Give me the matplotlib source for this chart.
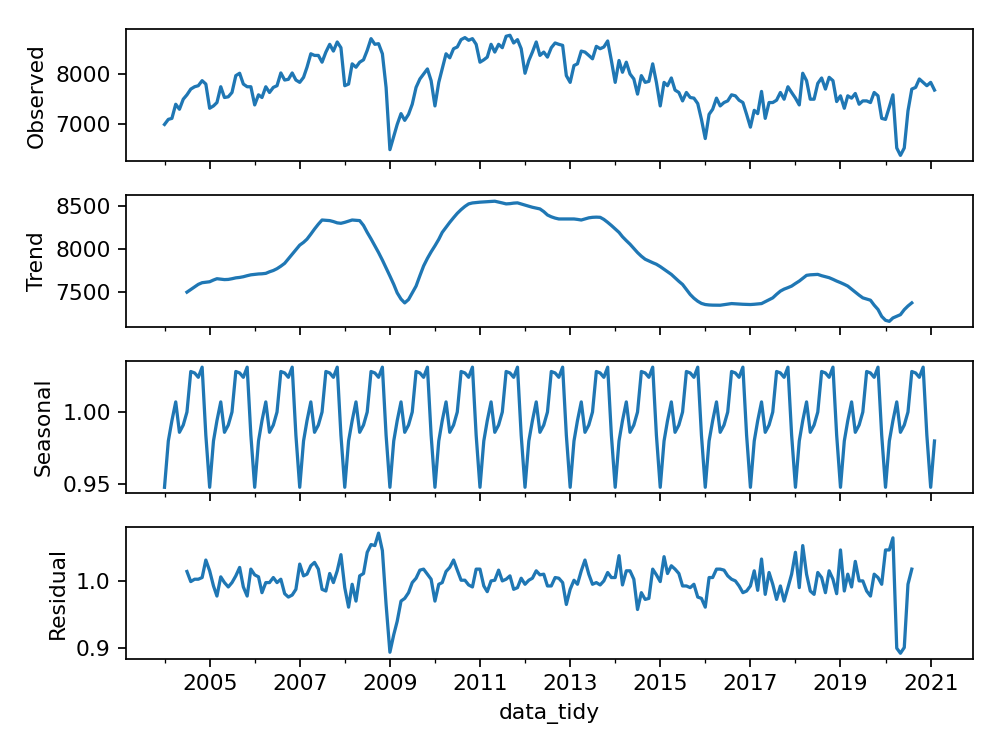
import numpy as np
import pandas as pd
import matplotlib
matplotlib.use('Agg')
import matplotlib.pyplot as plt
import matplotlib.dates as mdates
from datetime import datetime

# monthly series, 2004-01 .. 2021-02
start_month = '2004-01-01'

observed = [
    6986, 7088, 7108, 7392, 7291, 7493, 7581, 7696, 7743, 7764, 7865, 7797,
    7311, 7358, 7426, 7743, 7527, 7541, 7628, 7966, 8014, 7797, 7743, 7743,
    7378, 7581, 7527, 7743, 7628, 7730, 7764, 8020, 7878, 7892, 8020, 7878,
    7831, 7932, 8135, 8405, 8372, 8372, 8236, 8439, 8595, 8459, 8642, 8527,
    7764, 7797, 8203, 8135, 8236, 8284, 8473, 8709, 8595, 8608, 8405, 7730,
    6480, 6750, 6986, 7203, 7068, 7189, 7392, 7730, 7899, 8000, 8101, 7865,
    7358, 7831, 8101, 8405, 8324, 8507, 8541, 8689, 8730, 8676, 8709, 8595,
    8236, 8284, 8338, 8595, 8439, 8595, 8527, 8757, 8777, 8622, 8689, 8507,
    8014, 8270, 8439, 8642, 8372, 8439, 8338, 8527, 8622, 8595, 8574, 7966,
    7831, 8169, 8203, 8459, 8439, 8372, 8304, 8554, 8507, 8541, 8662, 8270,
    7831, 8270, 8034, 8236, 8000, 7899, 7595, 7966, 7831, 7851, 8203, 7831,
    7358, 7831, 7764, 7919, 7676, 7628, 7459, 7628, 7527, 7514, 7405, 7088,
    6703, 7189, 7291, 7514, 7358, 7426, 7459, 7581, 7561, 7473, 7426, 7189,
    6932, 7270, 7203, 7649, 7108, 7426, 7426, 7473, 7628, 7493, 7743, 7628,
    7514, 7378, 8014, 7865, 7493, 7493, 7811, 7919, 7696, 7932, 7865, 7446,
    7561, 7311, 7561, 7514, 7608, 7392, 7459, 7459, 7426, 7628, 7561, 7108,
    7088, 7338, 7581, 6514, 6365, 6514, 7257, 7696, 7730, 7899, 7831, 7764,
    7831, 7676,
]

# trend and residual start six months in (2004-07 .. 2020-08)
trend = [
    7500, 7530, 7560, 7590, 7609, 7615,
    7620, 7640, 7655, 7650, 7645, 7647, 7655, 7665, 7670, 7678, 7690, 7700,
    7705, 7710, 7712, 7717, 7735, 7750, 7771, 7800, 7833, 7885, 7938, 7990,
    8043, 8075, 8112, 8170, 8229, 8285, 8333, 8330, 8326, 8315, 8300, 8295,
    8306, 8320, 8333, 8330, 8326, 8270, 8190, 8115, 8035, 7957, 7870, 7780,
    7686, 7590, 7492, 7420, 7376, 7415, 7490, 7570, 7690, 7802, 7890, 7965,
    8035, 8110, 8190, 8250, 8306, 8360, 8410, 8453, 8490, 8519, 8530, 8535,
    8539, 8542, 8545, 8548, 8550, 8540, 8530, 8519, 8522, 8528, 8531, 8518,
    8505, 8492, 8480, 8470, 8461, 8430, 8391, 8370, 8355, 8345, 8345, 8345,
    8345, 8345, 8340, 8333, 8345, 8358, 8364, 8366, 8364, 8340, 8306, 8270,
    8230, 8190, 8140, 8095, 8054, 8005, 7957, 7915, 7880, 7860, 7840, 7822,
    7795, 7764, 7735, 7705, 7665, 7625, 7589, 7530, 7473, 7430, 7395, 7370,
    7357, 7352, 7350, 7350, 7349, 7355, 7362, 7368, 7365, 7362, 7360, 7358,
    7357, 7360, 7364, 7368, 7390, 7412, 7434, 7475, 7512, 7535, 7552, 7570,
    7600, 7628, 7660, 7694, 7700, 7703, 7705, 7690, 7678, 7667, 7648, 7628,
    7610, 7590, 7570, 7535, 7500, 7465, 7434, 7420, 7407, 7350, 7300, 7220,
    7175, 7163, 7202, 7222, 7240, 7298, 7340, 7376,
]

# seasonal factor for Jan .. Dec
seasonal_month = [0.948, 0.980, 0.994, 1.007, 0.986, 0.991,
                  1.000, 1.028, 1.027, 1.024, 1.031, 0.984]

residual = [
    1.014, 0.999, 1.0025, 1.0025, 1.005, 1.031,
    1.015, 0.9925, 0.9775, 1.006, 0.9975, 0.991, 0.9975, 1.0075, 1.02, 0.991, 0.9775, 1.0175,
    1.009, 1.006, 0.9825, 0.9975, 0.9975, 1.005, 0.9975, 1.0025, 0.981, 0.976, 0.979, 0.9875,
    1.025, 1.0075, 1.01, 1.0225, 1.0275, 1.0175, 0.9875, 0.985, 1.011, 0.9975, 1.015, 1.039,
    0.99, 0.961, 0.995, 0.97, 1.0075, 1.011, 1.0425, 1.054, 1.0525, 1.071, 1.045, 0.965,
    0.894, 0.92, 0.94, 0.97, 0.974, 0.9825, 0.9975, 1.004, 1.016, 1.0175, 1.01, 1.0025,
    0.97, 0.995, 0.9975, 1.014, 1.02, 1.031, 1.016, 1.001, 1.001, 0.994, 0.991, 1.0175,
    1.0175, 0.9925, 0.984, 1.0, 1.001, 1.016, 1.0, 1.0025, 1.0075, 0.9875, 0.99, 1.004,
    0.995, 1.001, 1.004, 1.015, 1.009, 1.01, 0.9925, 0.9925, 1.005, 1.004, 0.9975, 0.965,
    0.9875, 1.001, 0.995, 1.015, 1.031, 1.01, 0.995, 0.9975, 0.994, 1.0, 1.0125, 1.005,
    1.005, 1.0375, 0.994, 1.015, 1.015, 1.0025, 0.9575, 0.9825, 0.9725, 0.974, 1.0175, 1.009,
    0.999, 1.036, 1.011, 1.0225, 1.0175, 1.011, 0.9925, 0.9925, 0.99, 0.995, 0.976, 0.974,
    0.961, 1.005, 1.005, 1.0175, 1.0175, 1.016, 1.0075, 1.0025, 1.0, 0.9925, 0.9825, 0.985,
    0.9925, 1.015, 0.986, 1.0325, 0.98, 1.0125, 0.995, 0.9725, 0.9925, 0.97, 0.99, 1.01,
    1.0425, 0.99, 1.0525, 1.01, 0.985, 0.98, 1.0125, 1.005, 0.9825, 1.015, 1.0025, 0.981,
    1.046, 0.985, 1.01, 0.991, 1.029, 1.0, 1.0, 0.985, 0.9775, 1.01, 1.005, 0.995,
    1.046, 1.046, 1.064, 0.90, 0.8925, 0.901, 0.995, 1.0175,
]

dates = pd.date_range(start_month, periods=len(observed), freq='MS')
inner = dates[6:6 + len(trend)]
seasonal = [seasonal_month[d.month - 1] for d in dates]

fig, axes = plt.subplots(4, 1, sharex=True, figsize=(6.4, 4.8), dpi=156.25)
fig.subplots_adjust(left=0.126, right=0.973, top=0.961, bottom=0.121, hspace=0.256)

axes[0].plot(dates, observed)
axes[0].set_ylabel('Observed')
axes[0].set_yticks([7000, 8000])

axes[1].plot(inner, trend)
axes[1].set_ylabel('Trend')
axes[1].set_yticks([7500, 8000, 8500])

axes[2].plot(dates, seasonal)
axes[2].set_ylabel('Seasonal')
axes[2].set_yticks([0.95, 1.00])
axes[2].set_yticklabels(['0.95', '1.00'])

axes[3].plot(inner, residual)
axes[3].set_ylabel('Residual')
axes[3].set_yticks([0.9, 1.0])
axes[3].set_yticklabels(['0.9', '1.0'])
axes[3].set_xlabel('data_tidy')

axes[3].xaxis.set_major_locator(matplotlib.ticker.FixedLocator(
    [mdates.date2num(datetime(y, 1, 1)) for y in range(2005, 2022, 2)]))
axes[3].xaxis.set_minor_locator(matplotlib.ticker.FixedLocator(
    [mdates.date2num(datetime(y, 1, 1)) for y in range(2004, 2022, 2)]))
axes[3].xaxis.set_major_formatter(mdates.DateFormatter('%Y'))

plt.savefig('out.png')
